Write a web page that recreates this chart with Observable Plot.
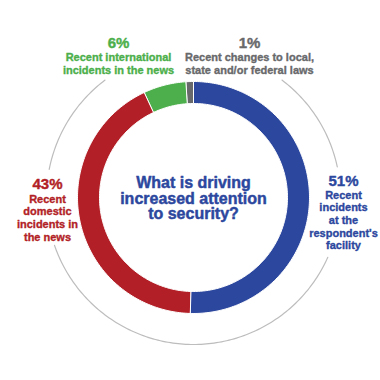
<!DOCTYPE html>
<html>
<head>
<meta charset="utf-8">
<script src="https://cdn.jsdelivr.net/npm/d3@7"></script>
<script src="https://cdn.jsdelivr.net/npm/@observablehq/plot@0.6"></script>
<style>
  html, body { margin: 0; padding: 0; background: #fff; }
  #chart svg { display: block; }
</style>
</head>
<body>
<div id="chart"></div>
<script>
// ---- data ----
const categories = [
  "Recent incidents at the respondent's facility",
  "Recent domestic incidents in the news",
  "Recent international incidents in the news",
  "Recent changes to local, state and/or federal laws"
];
const values = [51, 43, 6, 1];
const percentLabels = ["51%", "43%", "6%", "1%"];
const labelLines = [
  "Recent\nincidents\nat the\nrespondent's\nfacility",
  "Recent\ndomestic\nincidents in\nthe news",
  "Recent international\nincidents in the news",
  "Recent changes to local,\nstate and/or federal laws"
];
const centerTitle = "What is driving\nincreased attention\nto security?";

// ---- style / layout ----
const colors = ["#2c479e", "#b21f27", "#4caf4b", "#68696b"];
const font = "'Liberation Sans', Arial, Helvetica, sans-serif";
const R_OUT = 116, R_IN = 94, R_RING = 147;
const W = 380, H = 380, CX = 193, CY = 197;
// label anchor positions in pixels: [x, percentY, descCenterY]
const labelPos = [
  [343, 181, 219.5],
  [47, 184, 217],
  [118, 43, 63],
  [249, 43, 63]
];
// gray guide ring segments (degrees clockwise from top)
const ringSegments = [[37, 78], [114, 251], [281, 323]];

const rad = d => d * Math.PI / 180;
const px = x => x - CX;
const py = y => CY - y;

// slice polygons from pie layout
const pie = d3.pie().sort(null).value(d => d.value);
const table = categories.map((c, i) => ({cat: c, value: values[i], pct: percentLabels[i], lines: labelLines[i]}));
const arcs = pie(table);
const slicePts = [];
arcs.forEach(a => {
  const n = Math.max(4, Math.ceil((a.endAngle - a.startAngle) / rad(1)));
  const pts = [];
  for (let k = 0; k <= n; k++) {
    const t = a.startAngle + (a.endAngle - a.startAngle) * k / n;
    pts.push([R_OUT * Math.sin(t), R_OUT * Math.cos(t)]);
  }
  for (let k = n; k >= 0; k--) {
    const t = a.startAngle + (a.endAngle - a.startAngle) * k / n;
    pts.push([R_IN * Math.sin(t), R_IN * Math.cos(t)]);
  }
  pts.forEach(p => slicePts.push({cat: a.data.cat, x: p[0], y: p[1]}));
});

const ringPts = [];
ringSegments.forEach((s, i) => {
  for (let d = s[0]; d <= s[1]; d += 1) {
    ringPts.push({seg: i, x: R_RING * Math.sin(rad(d)), y: R_RING * Math.cos(rad(d))});
  }
});

const pctData = table.map((d, i) => ({...d, x: px(labelPos[i][0]), y: py(labelPos[i][1])}));
const descData = table.map((d, i) => ({...d, x: px(labelPos[i][0]), y: py(labelPos[i][2])}));

const chart = Plot.plot({
  width: W, height: H,
  margin: 0,
  x: {domain: [px(0), px(W)], axis: null},
  y: {domain: [py(H), py(0)], axis: null},
  color: {domain: categories, range: colors},
  style: {fontFamily: font, background: "#fff"},
  marks: [
    Plot.line(ringPts, {x: "x", y: "y", z: "seg", stroke: "#bdbdbd", strokeWidth: 1.2}),
    Plot.line(slicePts, {x: "x", y: "y", z: "cat", fill: "cat", stroke: "#fff", strokeWidth: 1, curve: "linear-closed"}),
    Plot.text(pctData, {x: "x", y: "y", text: "pct", fill: "cat", stroke: "cat", strokeWidth: 0.4, fontSize: 15, fontWeight: "bold"}),
    Plot.text(descData, {x: "x", y: "y", text: "lines", fill: "cat", stroke: "cat", strokeWidth: 0.35, fontSize: 11, fontWeight: "bold", lineHeight: 1.15}),
    Plot.text([centerTitle], {x: 0, y: py(198.5), text: d => d, fill: colors[0], stroke: colors[0], strokeWidth: 0.45, fontSize: 16, fontWeight: "bold", lineHeight: 0.97})
  ]
});
document.getElementById("chart").appendChild(chart);
</script>
</body>
</html>
